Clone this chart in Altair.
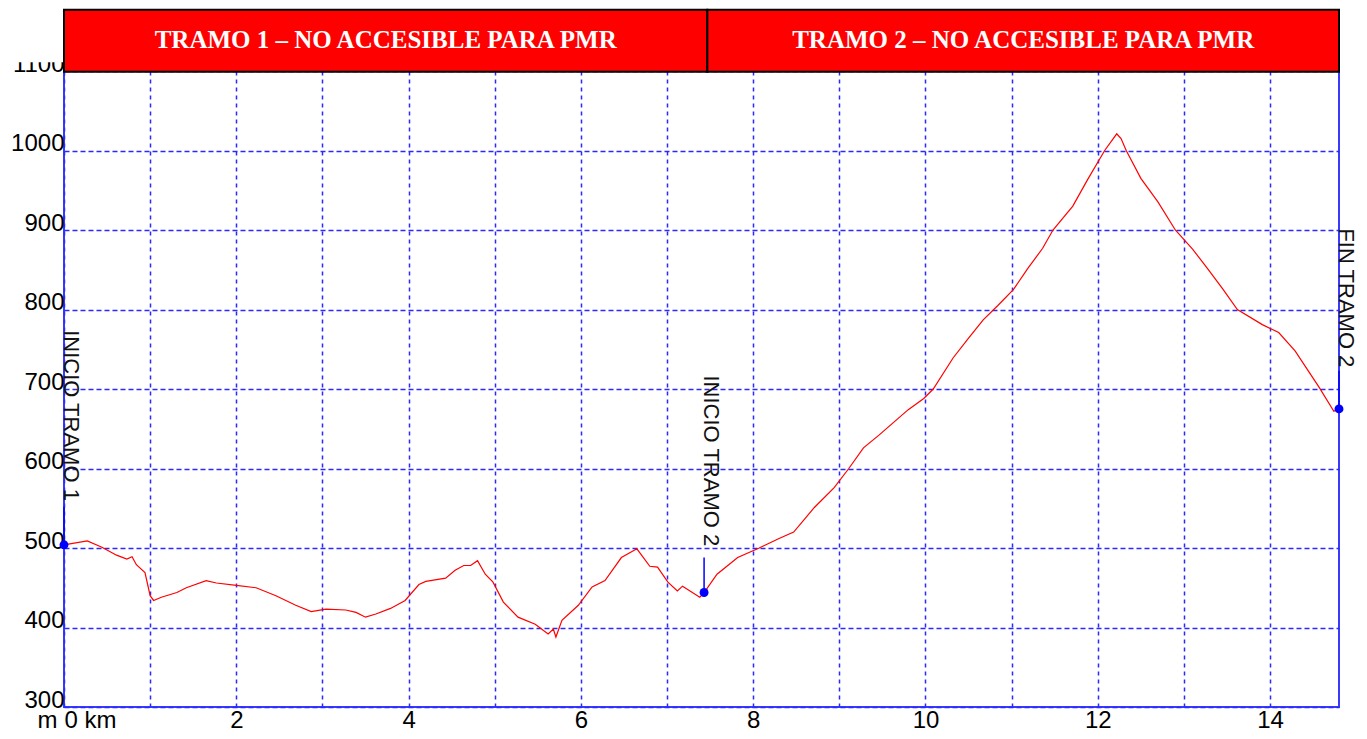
import altair as alt
import pandas as pd

# ---- elevation profile (km, m) ----
km = [0.00, 0.27, 0.44, 0.61, 0.73, 0.79, 0.84, 0.94, 1.00, 1.04, 1.13, 1.31, 1.42, 1.65, 1.77,
      2.00, 2.23, 2.46, 2.69, 2.87, 3.04, 3.27, 3.39, 3.50, 3.62, 3.79, 3.96, 4.12, 4.20, 4.43,
      4.54, 4.64, 4.72, 4.80, 4.89, 4.98, 5.10, 5.27, 5.47, 5.62, 5.68, 5.71, 5.78, 5.97, 6.13,
      6.28, 6.47, 6.65, 6.80, 6.89, 7.01, 7.12, 7.18, 7.38, 7.43,
      7.58, 7.82, 8.07, 8.30, 8.47, 8.71, 8.94, 9.11, 9.28, 9.46, 9.63, 9.80, 9.98, 10.09,
      10.32, 10.50, 10.67, 10.84, 11.02, 11.19, 11.36, 11.48, 11.71, 11.88, 12.08, 12.22, 12.27,
      12.33, 12.50, 12.70, 12.90, 13.10, 13.27, 13.45, 13.62, 13.91, 14.10, 14.29, 14.57, 14.74,
      14.80]
elev = [504, 509, 501, 491, 486, 489, 479, 469, 440, 434, 438, 444, 450, 459, 456,
        453, 450, 440, 428, 420, 423, 422, 419, 413, 417, 424, 434, 454, 458, 462,
        472, 478, 478, 484, 467, 457, 432, 413, 404, 392, 398, 388, 409, 428, 451,
        459, 488, 499, 477, 476, 457, 446, 452, 438, 444,
        467, 488, 500, 512, 520, 551, 576, 600, 626, 642, 658, 674, 688, 700,
        739, 764, 787, 805, 825, 852, 877, 900, 930, 963, 1000, 1021, 1015,
        1000, 965, 935, 900, 876, 852, 826, 800, 781, 771, 748, 702, 672,
        675]

# ---- waypoint markers ----
mk_km = [0.0, 7.43, 14.8]
mk_elev = [504, 444, 675]
mk_top = [552, 488, 723]
mk_label = ["INICIO TRAMO 1", "INICIO TRAMO 2", "FIN TRAMO 2"]
mk_label_elev = [774, 717, 902]

# ---- banners ----
banner_start = [0.0, 7.468]
banner_end = [7.468, 14.8]
banner_text = ["TRAMO 1 \u2013 NO ACCESIBLE PARA PMR", "TRAMO 2 \u2013 NO ACCESIBLE PARA PMR"]
banner_bottom = 1099
banner_top = 1177
banner_mid = 1139

# ---- axis ticks ----
x_ticks = list(range(0, 15))
y_ticks = list(range(300, 1101, 100))

FONT = "Liberation Sans"
GRID = "#2a2aff"

profile = pd.DataFrame({"km": km, "elev": elev})
markers = pd.DataFrame({"km": mk_km, "elev": mk_elev, "top": mk_top})
labels = pd.DataFrame({"km": mk_km, "elev": mk_label_elev, "label": mk_label})
banners = pd.DataFrame({
    "km": banner_start, "km2": banner_end,
    "elev": [banner_bottom] * 2, "elev2": [banner_top] * 2,
})
banner_labels = pd.DataFrame({
    "km": [(a + b) / 2 for a, b in zip(banner_start, banner_end)],
    "elev": [banner_mid] * 2, "text": banner_text,
})
patch = pd.DataFrame({"km": [-0.75], "km2": [-0.01], "elev": [1111], "elev2": [banner_top]})

x_enc = alt.X(
    "km:Q",
    scale=alt.Scale(domain=[0, 14.8], nice=False, zero=False),
    axis=alt.Axis(
        values=x_ticks, title=None,
        labelExpr="datum.value % 2 == 0 ? (datum.value == 0 ? '0 km' : datum.label) : ''",
        grid=True, gridColor=GRID, gridDash=[4, 4], gridWidth=1.5,
        domain=False, ticks=False, tickSize=0,
        labelFont=FONT, labelFontSize=24, labelColor="#000000",
        labelPadding=20, labelBaseline="alphabetic", labelFlush=True, labelOverlap=False,
    ),
)
y_enc = alt.Y(
    "elev:Q",
    scale=alt.Scale(domain=[300, 1100], nice=False, zero=False),
    axis=alt.Axis(
        values=y_ticks, format="d", title="m", titleAngle=0, titleAlign="right",
        titleBaseline="alphabetic", titleX=-7, titleY=656,
        titleFont=FONT, titleFontSize=24, titleFontWeight="normal", titleColor="#000000",
        grid=True, gridColor=GRID, gridDash=[5, 3], gridWidth=1.5,
        domain=False, ticks=False, tickSize=0,
        labelFont=FONT, labelFontSize=24, labelColor="#000000",
        labelPadding=0, labelBaseline="alphabetic", labelAlign="right", labelOverlap=False,
    ),
)

line = alt.Chart(profile).mark_line(color="#ff0000", strokeWidth=1.2).encode(x=x_enc, y=y_enc)

rules = alt.Chart(markers).mark_rule(color="#0000ff", strokeWidth=1.5).encode(
    x=x_enc, y=y_enc, y2="top:Q")

points = alt.Chart(markers).mark_circle(color="#0000ff", size=80, opacity=1).encode(x=x_enc, y=y_enc)

texts = alt.Chart(labels).mark_text(
    angle=90, align="left", baseline="alphabetic", font=FONT, fontSize=22, color="#111111"
).encode(x=x_enc, y=y_enc, text="label:N")

white = alt.Chart(patch).mark_rect(color="#ffffff").encode(x=x_enc, x2="km2:Q", y=y_enc, y2="elev2:Q")

banner = alt.Chart(banners).mark_rect(
    fill="#ff0000", stroke="#000000", strokeWidth=2
).encode(x=x_enc, x2="km2:Q", y=y_enc, y2="elev2:Q")

banner_txt = alt.Chart(banner_labels).mark_text(
    font="Liberation Serif", fontSize=25, fontWeight="bold", color="#ffffff",
    align="center", baseline="middle"
).encode(x=x_enc, y=y_enc, text="text:N")

chart = alt.layer(line, rules, points, texts, white, banner, banner_txt).properties(
    width=1275, height=636,
    autosize=alt.AutoSizeParams(type="none"),
    padding={"left": 56, "top": 63, "right": 20, "bottom": 24},
).configure_view(stroke="#3a3aff", strokeWidth=2)

chart.save("out.html", embed_options={"renderer": "svg", "actions": False})
